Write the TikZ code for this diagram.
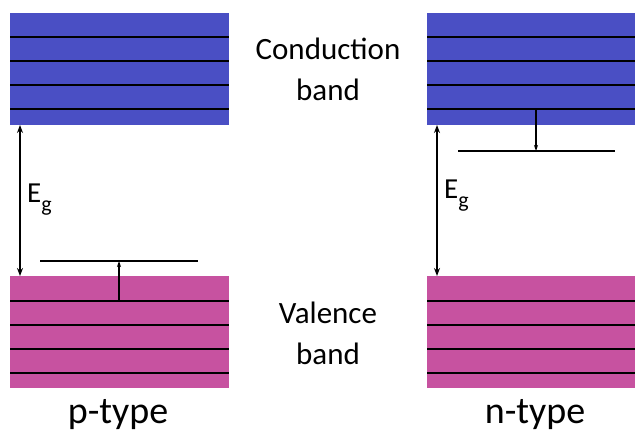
\documentclass[tikz,border=0pt]{standalone}
\usepackage{fontspec}
\setmainfont{Carlito}
\usetikzlibrary{arrows.meta}
\definecolor{cband}{RGB}{74,79,196}
\definecolor{vband}{RGB}{199,82,160}
\newcommand{\egsub}{E\raisebox{-9pt}{\fontsize{22}{24}\selectfont g}}
\tikzset{
  bandbox/.style={draw=none, inner sep=0pt, outer sep=0pt, anchor=north west},
  level/.style={line width=1.8pt, black},
  fermi/.style={line width=1.3pt, black},
  egarrow/.style={line width=1.4pt, {Stealth[length=8pt,width=6pt]}-{Stealth[length=8pt,width=6pt]}},
  shiftarrow/.style={line width=1.1pt, -{Stealth[length=6pt,width=4pt]}},
  lbl/.style={font=\fontsize{31}{41}\selectfont, align=center},
  typelbl/.style={font=\fontsize{38}{40}\selectfont, anchor=base},
  eglbl/.style={font=\fontsize{29}{32}\selectfont, anchor=west, inner sep=0pt}
}
\begin{document}
\begin{tikzpicture}[x=1pt,y=-1pt]
\useasboundingbox (0,0) rectangle (635,434);
% boxes
\node[bandbox, fill=cband, minimum width=219pt, minimum height=112pt] (pc) at (10,13) {};
\node[bandbox, fill=vband, minimum width=219pt, minimum height=112pt] (pv) at (10,276) {};
\node[bandbox, fill=cband, minimum width=208pt, minimum height=112pt] (nc) at (427,13) {};
\node[bandbox, fill=vband, minimum width=208pt, minimum height=112pt] (nv) at (427,276) {};
% levels
\foreach \y in {37,61,85,109} {
  \draw[level] (10,\y) -- (229,\y);
  \draw[level] (427,\y) -- (635,\y);
}
\foreach \y in {301,325,349,373} {
  \draw[level] (10,\y) -- (229,\y);
  \draw[level] (427,\y) -- (635,\y);
}
% acceptor level (p-type)
\coordinate (accL) at (40,261);
\coordinate (accR) at (198,261);
\coordinate (acc) at (119,261);
\coordinate (pvtop) at (119,301);
\draw[fermi] (accL) -- (accR);
\draw[shiftarrow] (pvtop) -- (acc);
% donor level (n-type)
\coordinate (donL) at (458,151);
\coordinate (donR) at (615,151);
\coordinate (don) at (536,151);
\coordinate (ncbot) at (536,109);
\draw[fermi] (donL) -- (donR);
\draw[shiftarrow] (ncbot) -- (don);
% band gap arrows
\coordinate (pgtop) at (20,125);
\coordinate (pgbot) at (20,276);
\coordinate (ngtop) at (437,125);
\coordinate (ngbot) at (437,276);
\draw[egarrow] (pgtop) -- (pgbot);
\draw[egarrow] (ngtop) -- (ngbot);
\node[eglbl] (eg1) at (27,200) {\egsub};
\node[eglbl] (eg2) at (444,196) {\egsub};
% labels
\node[lbl] (cb) at (328,69) {Conduction\\band};
\node[lbl] (vb) at (328,333) {Valence\\band};
\node[typelbl] (pt) at (118,423) {p-type};
\node[typelbl] (nt) at (535,423) {n-type};
\end{tikzpicture}
\end{document}
